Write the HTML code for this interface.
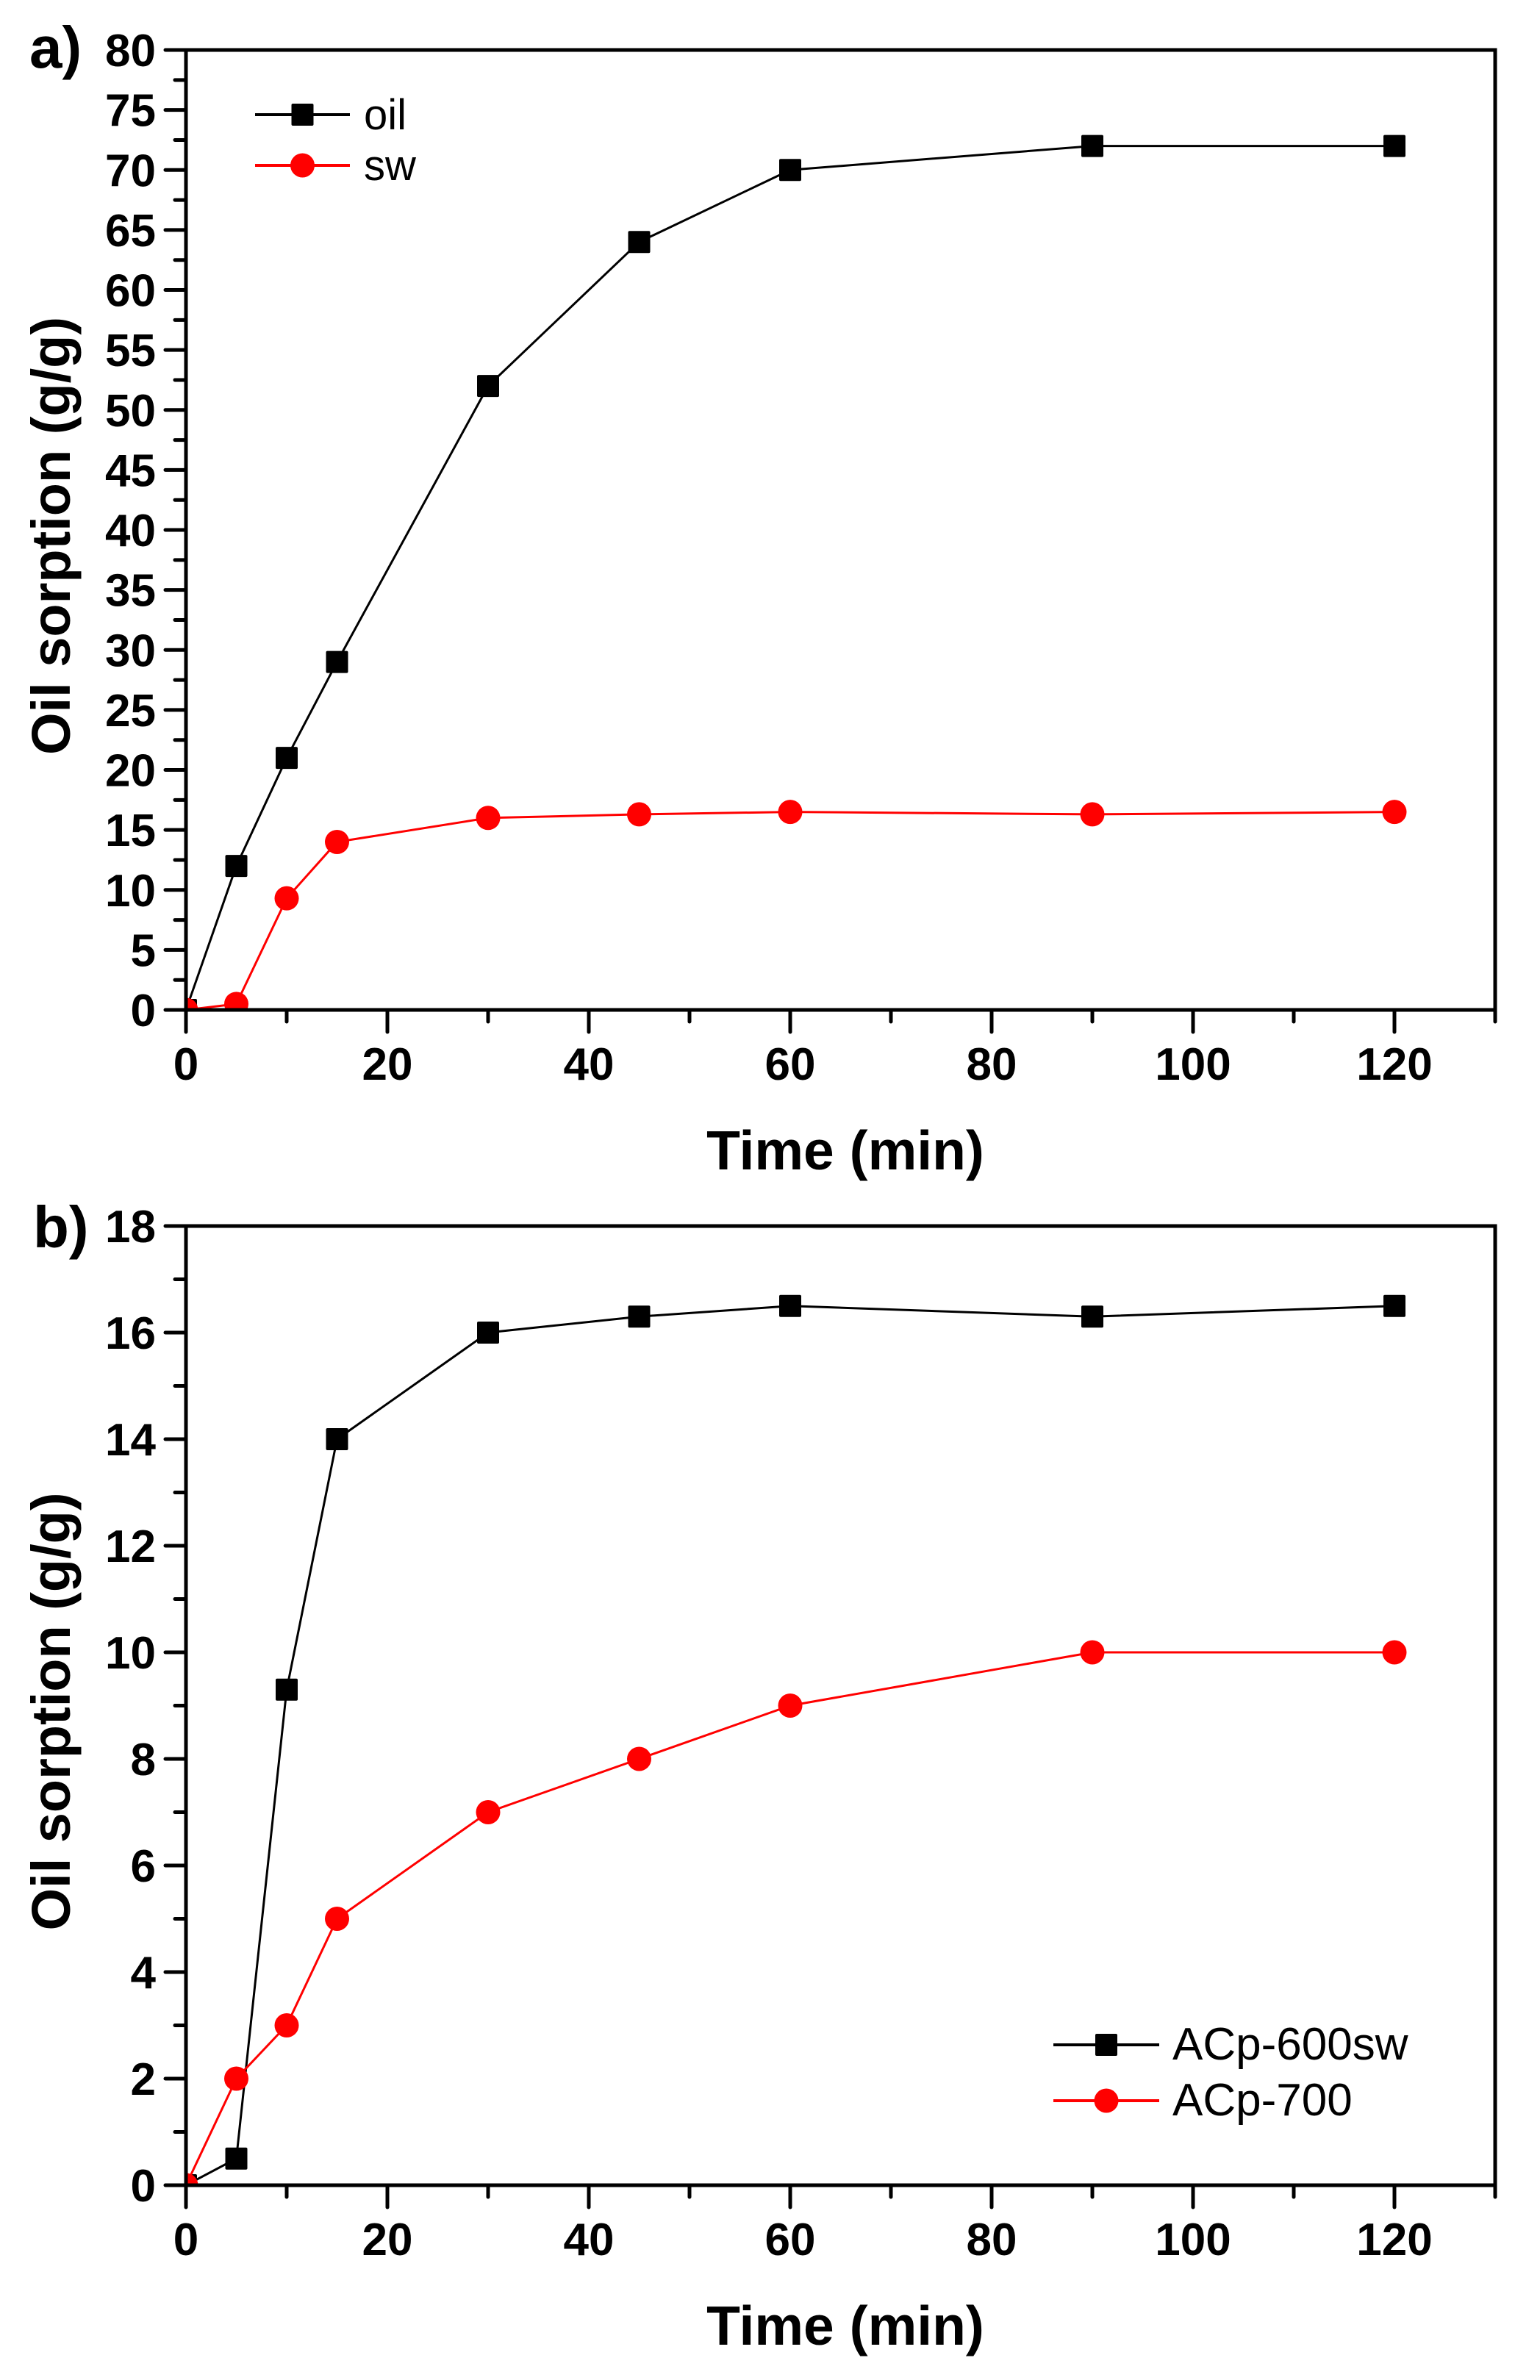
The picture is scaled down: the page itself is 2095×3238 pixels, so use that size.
<!DOCTYPE html>
<html><head><meta charset="utf-8"><style>
html,body{margin:0;padding:0;background:#fff}
svg{display:block}
text{font-family:"Liberation Sans",Arial,sans-serif}
</style></head><body>
<svg id="s" width="2095" height="3238" viewBox="0 0 2095 3238" xmlns="http://www.w3.org/2000/svg"></svg>
<script>
const S=document.getElementById('s');let h='';
const X0=253,XS=13.7,XR=253+130*XS;
function panel(top,bot,ymax,ymaj,ymin,series,label,legend){
 const ys=(bot-top)/ymax, px=x=>X0+x*XS, py=y=>bot-y*ys;
 const id='c'+top;
 h+=`<clipPath id="${id}"><rect x="${X0}" y="${top}" width="${XR-X0}" height="${bot-top}"/></clipPath>`;
 series.forEach(s=>{
  const pts=s.d.map(p=>px(p[0])+','+py(p[1])).join(' ');
  h+=`<g clip-path="url(#${id})"><polyline points="${pts}" fill="none" stroke="${s.c}" stroke-width="3"/>`;
  s.d.forEach(p=>{
   if(s.m=='sq')h+=`<rect x="${px(p[0])-15}" y="${py(p[1])-15}" width="30" height="30" rx="2" fill="${s.c}"/>`;
   else h+=`<circle cx="${px(p[0])}" cy="${py(p[1])}" r="16.5" fill="${s.c}"/>`;
  });
  h+='</g>';
 });
 h+=`<rect x="${X0}" y="${top}" width="${XR-X0}" height="${bot-top}" fill="none" stroke="#000" stroke-width="5"/>`;
 for(let v=0;v<=ymax+1e-9;v+=ymin){
  const y=py(v);const maj=Math.abs(v/ymaj-Math.round(v/ymaj))<1e-6;
  h+=`<line x1="${X0-(maj?28:15)}" y1="${y}" x2="${X0}" y2="${y}" stroke="#000" stroke-width="5" stroke-linecap="round"/>`;
  if(maj)h+=`<text x="212" y="${y+22}" font-size="62" font-weight="bold" text-anchor="end">${Math.round(v)}</text>`;
 }
 for(let v=0;v<=130;v+=10){
  const x=px(v);const maj=v%20==0;
  h+=`<line x1="${x}" y1="${bot}" x2="${x}" y2="${bot+(maj?30:16)}" stroke="#000" stroke-width="5" stroke-linecap="round"/>`;
  if(maj)h+=`<text x="${x}" y="${bot+95}" font-size="62" font-weight="bold" text-anchor="middle">${v}</text>`;
 }
 h+=`<text x="1150" y="${bot+217}" font-size="75" font-weight="bold" text-anchor="middle">Time (min)</text>`;
 const cy=(top+bot)/2+8;
 h+=`<text x="95" y="${cy}" font-size="74" font-weight="bold" text-anchor="middle" transform="rotate(-90 95 ${cy})">Oil sorption (g/g)</text>`;
 h+=`<text x="${label[1]}" y="${label[2]}" font-size="80" font-weight="bold">${label[0]}</text>`;
 legend.forEach(l=>{
  h+=`<line x1="${l.x1}" y1="${l.y}" x2="${l.x2}" y2="${l.y}" stroke="${l.c}" stroke-width="4"/>`;
  const mx=(l.x1+l.x2)/2;
  if(l.m=='sq')h+=`<rect x="${mx-15}" y="${l.y-15}" width="30" height="30" rx="2" fill="${l.c}"/>`;
  else h+=`<circle cx="${mx}" cy="${l.y}" r="16.5" fill="${l.c}"/>`;
  h+=`<text x="${l.tx}" y="${l.y+20}" font-size="${l.fs}">${l.t}</text>`;
 });
}
const oil=[[0,0],[5,12],[10,21],[15,29],[30,52],[45,64],[60,70],[90,72],[120,72]];
const sw=[[0,0],[5,0.5],[10,9.3],[15,14],[30,16],[45,16.3],[60,16.5],[90,16.3],[120,16.5]];
const a7=[[0,0],[5,2],[10,3],[15,5],[30,7],[45,8],[60,9],[90,10],[120,10]];
panel(68,1374,80,5,2.5,[{d:oil,c:'#000',m:'sq'},{d:sw,c:'#f00',m:'c'}],['a)',40,92],
 [{x1:347,x2:476,y:156,c:'#000',m:'sq',t:'oil',tx:495,fs:58},{x1:347,x2:476,y:225,c:'#f00',m:'c',t:'sw',tx:495,fs:58}]);
panel(1668,2973,18,2,1,[{d:sw,c:'#000',m:'sq'},{d:a7,c:'#f00',m:'c'}],['b)',45,1697],
 [{x1:1433,x2:1577,y:2782,c:'#000',m:'sq',t:'ACp-600sw',tx:1595,fs:62},{x1:1433,x2:1577,y:2858,c:'#f00',m:'c',t:'ACp-700',tx:1595,fs:62}]);
S.innerHTML=h;
</script>
</body></html>
